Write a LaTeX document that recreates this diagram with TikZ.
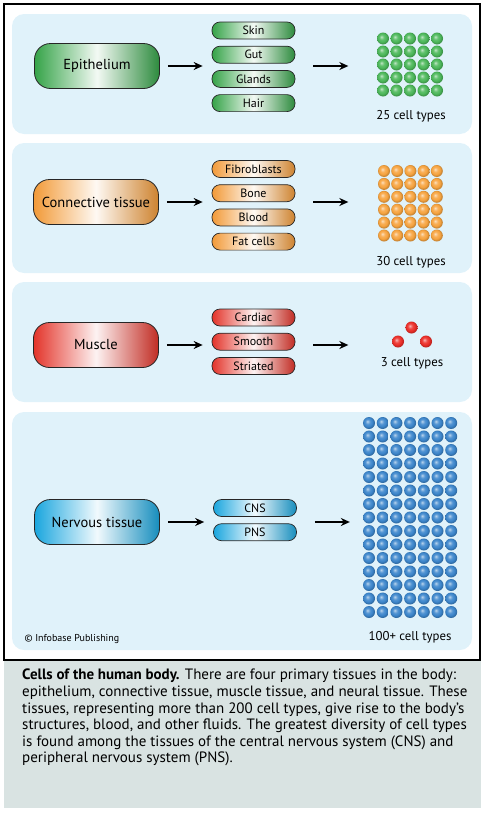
\documentclass[tikz,border=0pt]{standalone}
\usepackage{fontspec}
\setmainfont{PT Sans}
\usetikzlibrary{arrows.meta,positioning}
\definecolor{panelblue}{HTML}{E0F2FA}
\definecolor{capgray}{HTML}{D9E3E2}
\definecolor{epigreen}{HTML}{35A348}
\definecolor{conorange}{HTML}{F29A38}
\definecolor{musred}{HTML}{E3342A}
\definecolor{nervblue}{HTML}{1AA6DE}
\definecolor{epiball}{HTML}{4CB85A}
\definecolor{conball}{HTML}{F7A440}
\definecolor{musball}{HTML}{EC2E28}
\definecolor{nervball}{HTML}{3C86CC}
\colorlet{cellc}{epiball}
% soft ball shading for the cells
\pgfdeclareradialshading[cellc]{cellball}{\pgfqpoint{-7bp}{7bp}}{%
  color(0bp)=(cellc!35!white); color(10bp)=(cellc!88!white);
  color(18bp)=(cellc); color(25bp)=(cellc!80!black); color(50bp)=(cellc!70!black)}

\begin{document}
\begin{tikzpicture}[
  x=1pt,y=-1pt,
  panel/.style={fill=panelblue,rounded corners=12pt},
  tint/.style={left color=#1,right color=#1!85!black,middle color=#1!6!white},
  tissue/.style={draw=black!85,line width=0.8pt,rounded corners=16pt,minimum width=125pt,minimum height=45pt,inner sep=0pt,font=\fontsize{14.5}{16}\selectfont},
  sub/.style={draw=black!85,line width=0.7pt,rounded corners=8pt,minimum width=83pt,minimum height=17pt,inner sep=0pt,font=\fontsize{12}{13}\selectfont},
  cell/.style={circle,minimum size=12pt,inner sep=0pt,/utils/exec={\colorlet{cellc}{#1}},shading=cellball},
  count/.style={font=\fontsize{12.8}{14}\selectfont},
  arr/.style={-{Stealth[length=9pt,width=8pt]},line width=1.6pt}
]
\useasboundingbox (0,0) rectangle (485,814);
% frame and caption box
\fill[capgray] (4,660) rectangle (481,808);
\draw[line width=1.2pt] (4,4) rectangle (480,660);
\fill[panel] (12,14) rectangle (472,134);
\fill[panel] (12,143) rectangle (472,273);
\fill[panel] (12,282) rectangle (472,402);
\fill[panel] (12,412) rectangle (472,650);

% epithelium
\node[tissue,tint=epigreen] (epi) at (97,66) {Epithelium};
\node[sub,tint=epigreen] (skin) at (253.5,30.5) {Skin};
\node[sub,tint=epigreen,below=6.5pt of skin] (gut) {Gut};
\node[sub,tint=epigreen,below=6.5pt of gut] (glands) {Glands};
\node[sub,tint=epigreen,below=6.5pt of glands] (hair) {Hair};
\foreach \r in {0,...,4}
  \foreach \c in {0,...,4}
    \node[cell=epiball] (e-\r-\c) at (383+13.5*\c,38.5+13*\r) {};
\node[count] (epin) at (411,116) {25 cell types};

% connective tissue
\node[tissue,tint=conorange] (con) at (96,202) {Connective tissue};
\node[sub,tint=conorange] (fib) at (253.5,169) {Fibroblasts};
\node[sub,tint=conorange,below=6.5pt of fib] (bone) {Bone};
\node[sub,tint=conorange,below=6.5pt of bone] (blood) {Blood};
\node[sub,tint=conorange,below=6.5pt of blood] (fat) {Fat cells};
\foreach \r in {0,...,5}
  \foreach \c in {0,...,4}
    \node[cell=conball] (o-\r-\c) at (384+13.2*\c,171+12.9*\r) {};
\node[count] (conn) at (411,262) {30 cell types};

% muscle
\node[tissue,tint=musred] (mus) at (96,345) {Muscle};
\node[sub,tint=musred] (card) at (253.5,317.5) {Cardiac};
\node[sub,tint=musred,below=6.5pt of card] (smooth) {Smooth};
\node[sub,tint=musred,below=6.5pt of smooth] (stri) {Striated};
\node[cell=musball] (m-1) at (411.5,327.5) {};
\node[cell=musball] (m-2) at (398,341.5) {};
\node[cell=musball] (m-3) at (426,341.5) {};
\node[count] (musn) at (412,363) {3 cell types};

% nervous tissue
\node[tissue,tint=nervblue] (nerv) at (97,522) {Nervous tissue};
\node[sub,tint=nervblue] (cns) at (255,508) {CNS};
\node[sub,tint=nervblue,below=6.5pt of cns] (pns) {PNS};
\foreach \r in {0,...,14}
  \foreach \c in {0,...,6}
    \node[cell=nervball] (n-\r-\c) at (369+13.7*\c,423+13.5*\r) {};
\node[count] (nervn) at (410,637) {100+ cell types};
\node[anchor=west,font=\fontsize{10}{11}\selectfont] (pub) at (21,639) {\textcopyright\ Infobase Publishing};

% arrows
\foreach \t/\s in {epi/skin,con/fib,mus/card,nerv/cns} {
  \draw[arr] ([xshift=8pt]\t.east) -- ([xshift=-9pt]\t.east -| \s.west);
  \draw[arr] ([xshift=18pt]\t.east -| \s.east) -- ([xshift=53pt]\t.east -| \s.east);
}

% caption
\node[anchor=north west,align=left,inner sep=0pt,font=\fontsize{15}{16.6}\selectfont] (cap) at (22,669)
  {\textbf{Cells of the human body.} There are four primary tissues in the body:\\
   epithelium, connective tissue, muscle tissue, and neural tissue. These\\
   tissues, representing more than 200 cell types, give rise to the body’s\\
   structures, blood, and other fluids. The greatest diversity of cell types\\
   is found among the tissues of the central nervous system (CNS) and\\
   peripheral nervous system (PNS).};
\end{tikzpicture}
\end{document}
